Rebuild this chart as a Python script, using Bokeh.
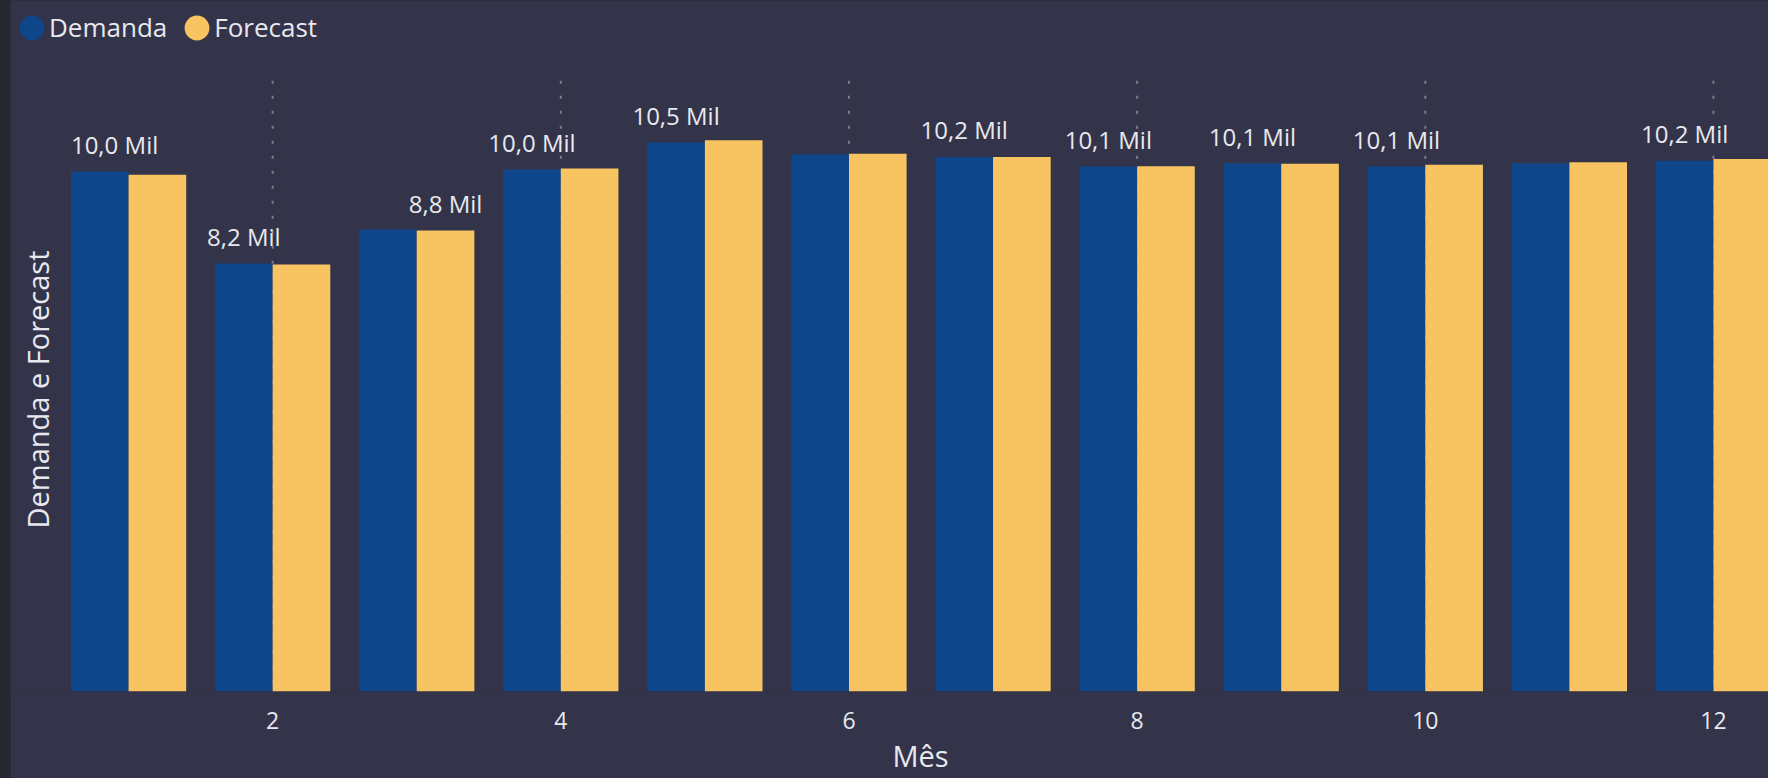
import math
from bokeh.plotting import figure
from bokeh.models import ColumnDataSource, FixedTicker, Range1d, Legend, LegendItem, Label, Title
from bokeh.core.properties import value
from bokeh.transform import dodge
from bokeh.embed import file_html
from bokeh.resources import INLINE

# ---- data ----
months = [1, 2, 3, 4, 5, 6, 7, 8, 9, 10, 11, 12]
demanda = [9960, 8200, 8850, 10000, 10520, 10290, 10240, 10060, 10120, 10060, 10120, 10170]
forecast = [9900, 8180, 8830, 10020, 10560, 10300, 10240, 10060, 10110, 10090, 10140, 10200]
label_series = ["Demanda", "Demanda", "Forecast", "Demanda", "Demanda", None,
                "Demanda", "Demanda", "Demanda", "Demanda", None, "Demanda"]
x_ticks = [2, 4, 6, 8, 10, 12]
series_names = ["Demanda", "Forecast"]
x_title = "Mês"
y_title = "Demanda e Forecast"

# ---- style / layout ----
BG = "#33344a"
STRIP = "#262731"
TXT = "#e8e8ee"
COLORS = ["#0f4689", "#f8c461"]
GRID = "#7b7d8c"
FONT = "Open Sans"
BAR_W = 0.4
W, H = 1758, 778
BOTTOM = 87                 # space below the plot frame
FRAME_H = H - BOTTOM
PX_PER_UNIT = 0.0522        # vertical pixels per unit of value
Y_END = FRAME_H / PX_PER_UNIT
GRID_TOP = 11700

src = ColumnDataSource(dict(month=months, demanda=demanda, forecast=forecast))

p = figure(width=W, height=H,
           x_range=Range1d(0.1806, 12.382), y_range=Range1d(0, Y_END),
           y_axis_location=None,
           output_backend="svg", toolbar_location=None,
           min_border_left=0, min_border_right=0, min_border_top=0, min_border_bottom=BOTTOM,
           background_fill_color=BG, border_fill_color=BG, outline_line_color=None)
p.grid.visible = False

# dotted vertical guide lines at the tick positions (drawn from the top down)
p.segment(x0=x_ticks, y0=[GRID_TOP] * len(x_ticks), x1=x_ticks, y1=[0] * len(x_ticks),
          line_color=GRID, line_width=2, line_dash="3 12")

p.vbar(x=dodge("month", -BAR_W / 2), top="demanda", width=BAR_W, source=src,
       fill_color=COLORS[0], line_color=None)
p.vbar(x=dodge("month", BAR_W / 2), top="forecast", width=BAR_W, source=src,
       fill_color=COLORS[1], line_color=None)

# data labels
lx, ly, lt, la = [], [], [], []
for i, m in enumerate(months):
    s = label_series[i]
    if s is None:
        continue
    v = demanda[i] if s == "Demanda" else forecast[i]
    off = -BAR_W / 2 if s == "Demanda" else BAR_W / 2
    if i == 0:
        lx.append(m + off - BAR_W / 2)
        la.append("left")
    else:
        lx.append(m + off)
        la.append("center")
    ly.append(v)
    lt.append(f"{v / 1000:.1f}".replace(".", ",") + " Mil")
lsrc = ColumnDataSource(dict(x=lx, y=ly, text=lt, align=la))
p.text(x="x", y="y", text="text", text_align="align", text_baseline="alphabetic",
       y_offset=-27, text_font=value(FONT), text_font_size="24px", text_color=TXT,
       source=lsrc)

# x axis
ax = p.xaxis[0]
ax.ticker = FixedTicker(ticks=x_ticks)
ax.axis_line_color = None
ax.major_tick_line_color = None
ax.minor_tick_line_color = None
ax.major_tick_in = 0
ax.major_tick_out = 0
ax.major_label_standoff = 20
ax.major_label_text_font = FONT
ax.major_label_text_font_size = "23px"
ax.major_label_text_color = TXT

# x axis title (centred on the full, partly cropped plot area)
p.add_layout(Title(text=x_title, align="left", offset=882, standoff=4,
                   text_font=FONT, text_font_size="29px", text_font_style="normal",
                   text_color=TXT), "below")

# y axis title
p.add_layout(Label(x=27, y=FRAME_H - 389, x_units="screen", y_units="screen",
                   text=y_title, angle=math.pi / 2, text_align="center",
                   text_baseline="alphabetic", text_font=FONT, text_font_size="29px",
                   text_color=TXT))

# legend with round markers (ellipse legend glyph fills 0.8 of the glyph box)
nan = float("nan")
rd = p.ellipse(x=[nan], y=[nan], width=10, height=10, width_units="screen",
               height_units="screen", fill_color=COLORS[0], line_color=None)
rf = p.ellipse(x=[nan], y=[nan], width=10, height=10, width_units="screen",
               height_units="screen", fill_color=COLORS[1], line_color=None)
legend = Legend(items=[LegendItem(label=series_names[0], renderers=[rd]),
                       LegendItem(label=series_names[1], renderers=[rf])],
                orientation="horizontal", location=(6, FRAME_H - 45),
                glyph_width=31, glyph_height=35, label_height=35, label_standoff=2,
                spacing=14, padding=0, margin=0,
                background_fill_alpha=0, border_line_color=None,
                label_text_font=FONT, label_text_font_size="26px", label_text_color=TXT)
p.add_layout(legend, "center")

html = file_html(p, INLINE)
style = ("<style>html{background:%s;} body{background:%s !important;"
         "padding-left:10px !important;}</style>" % (STRIP, STRIP))
html = html.replace("</head>", style + "</head>", 1)
open("out.html", "w").write(html)
